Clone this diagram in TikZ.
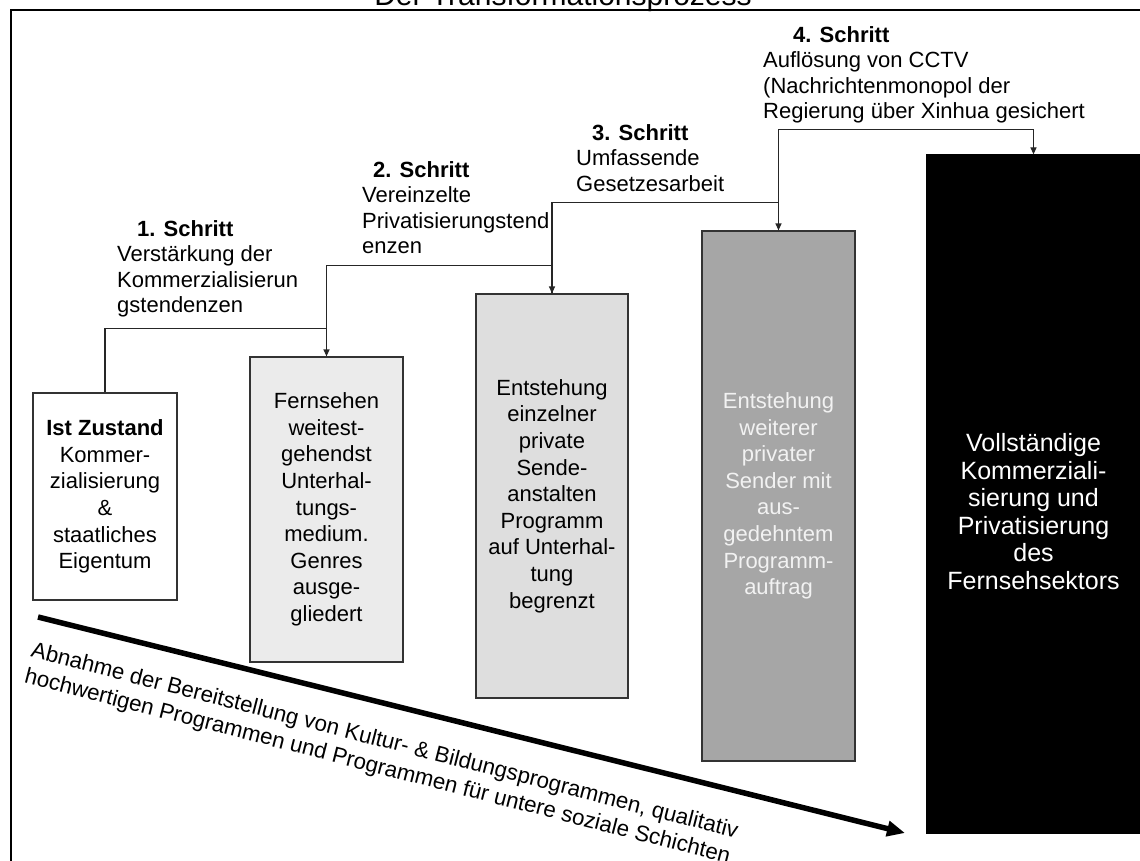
\documentclass[tikz,border=0pt]{standalone}
\usepackage{fontspec}
\setmainfont{Liberation Sans}
\usetikzlibrary{arrows.meta}

\begin{document}
\begin{tikzpicture}[x=1pt,y=-1pt,
    stage/.style ={rectangle, draw=black!80, line width=1.2pt, inner sep=0pt, align=center,
      font=\fontsize{22}{26.6}\selectfont},
    steplabel/.style ={anchor=north west, inner sep=0pt, align=left,
      font=\fontsize{22}{25.5}\selectfont},
    link/.style ={draw=black!85, line width=1.2pt, -{Triangle[length=7pt,width=6pt]}}]
   \useasboundingbox (0,0) rectangle (1140,861);

   % frame and title
   \node (title) at (563,6) [anchor=base, inner sep=0pt, font=\fontsize{30}{36}\selectfont] {Der Transformationsprozess};
   \draw[line width=2.6pt] (11,880) -- (11,10) -- (1160,10);

   % stages
   \node[stage, fill=white, minimum width=144pt, minimum height=207pt] (S0) at (105,496.5)
      {\textbf{Ist Zustand}\\Kommer-\\zialisierung\\\&\\staatliches\\Eigentum};
   \node[stage, fill=black!8, minimum width=153pt, minimum height=305pt] (S1) at (326.5,509.5)
      {Fernsehen\\weitest-\\gehendst\\Unterhal-\\tungs-\\medium.\\Genres\\ausge-\\gliedert};
   \node[stage, fill=black!13, minimum width=152pt, minimum height=404pt] (S2) at (552,496)
      {Entstehung\\einzelner\\private\\Sende-\\anstalten\\Programm\\auf Unterhal-\\tung\\begrenzt};
   \node[stage, fill=black!35, text=white!95!black, minimum width=153pt, minimum height=530pt] (S3) at (778.5,496)
      {Entstehung\\weiterer\\privater\\Sender mit\\aus-\\gedehntem\\Programm-\\auftrag};
   \node[stage, fill=black, draw=black, text=white, minimum width=213pt, minimum height=678pt,
      font=\fontsize{25}{27.5}\selectfont] (S4) at (1033.5,494)
      {\\[-2pt]\\Vollständige\\Kommerziali-\\sierung und\\Privatisierung\\des\\Fernsehsektors};

   % steps
   \node[steplabel] (L1) at (117,220) {\hspace*{20pt}\textbf{1. Schritt}\\Verstärkung der\\Kommerzialisierun\\gstendenzen};
   \node[steplabel] (L2) at (362,161) {\hspace*{11pt}\textbf{2. Schritt}\\Vereinzelte\\Privatisierungstend\\enzen};
   \node[steplabel] (L3) at (576,124) {\hspace*{16pt}\textbf{3. Schritt}\\Umfassende\\Gesetzesarbeit};
   \node[steplabel] (L4) at (763,26) {\hspace*{30pt}\textbf{4. Schritt}\\Auflösung von CCTV\\(Nachrichtenmonopol der\\Regierung über Xinhua gesichert};

   \draw[link] (S0.north) -- ++(0,-64) -| (S1.north);
   \draw[link] (S1.north) -- ++(0,-91) -| (S2.north);
   \draw[link] (S2.north) -- ++(0,-91) -| (S3.north);
   \draw[link] (S3.north) -- ++(0,-101) -| (S4.north);

   % decline
   \coordinate (decl start) at (38,617);
   \coordinate (decl end) at (905,833);
   \draw[line width=5.5pt, -{Triangle[length=18pt,width=15pt]}] (decl start) -- (decl end);
   \node[rotate=-14.4, anchor=north west, inner sep=0pt, align=left,
      font=\fontsize{22.3}{26.5}\selectfont] (decl text) at (34,641)
      {Abnahme der Bereitstellung von Kultur- \& Bildungsprogrammen, qualitativ\\hochwertigen Programmen und Programmen für untere soziale Schichten};
 \end{tikzpicture}
\end{document}
